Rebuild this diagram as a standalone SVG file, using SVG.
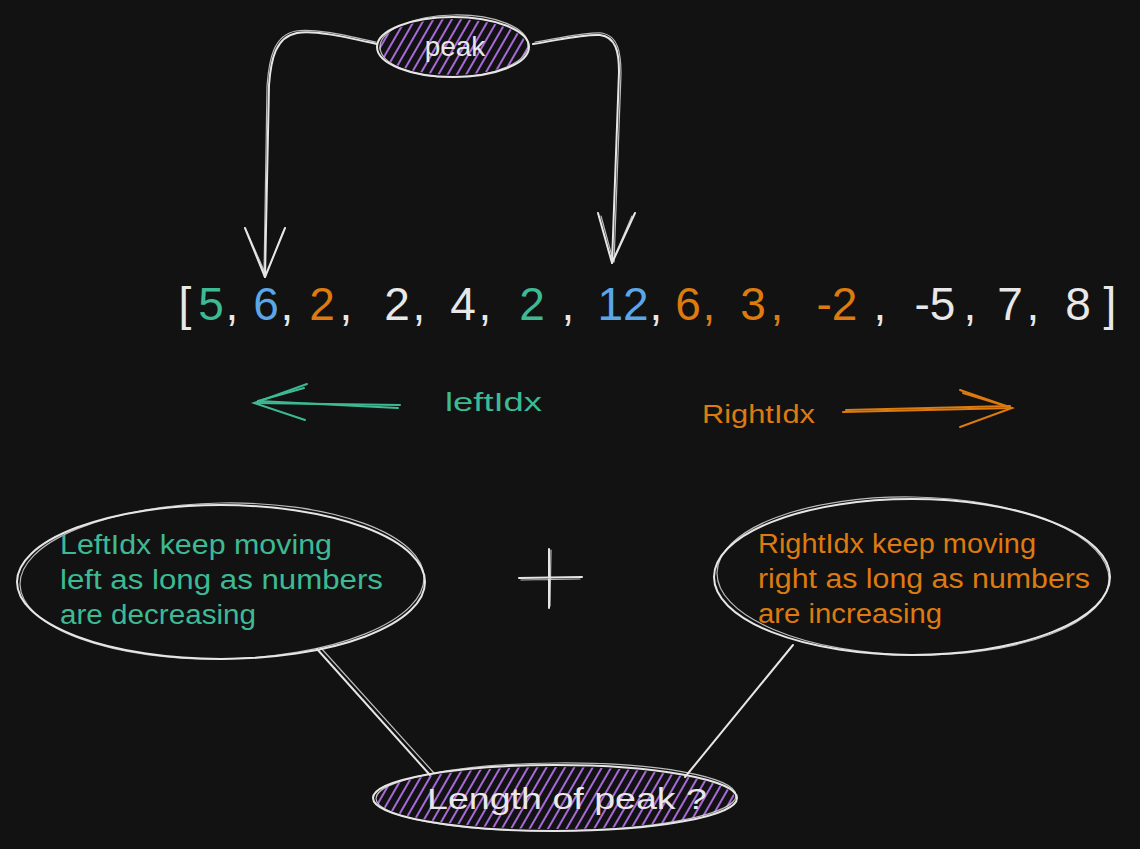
<svg xmlns="http://www.w3.org/2000/svg" width="1140" height="849" viewBox="0 0 1140 849">
<defs>
<pattern id="hatch" patternUnits="userSpaceOnUse" width="8" height="8" patternTransform="rotate(30)">
<line x1="1" y1="0" x2="1" y2="8" stroke="#b873f0" stroke-width="1.8"/>
</pattern>
<style>
.stk{fill:none;stroke:#e6e6e6;stroke-width:2;stroke-linecap:round;stroke-linejoin:round}
.stk2{fill:none;stroke:#e6e6e6;stroke-width:1.2;stroke-linecap:round;opacity:0.8}
.t{font-family:"Liberation Sans",Arial,sans-serif}
.num{font-family:"Liberation Sans",Arial,sans-serif;font-size:46px;text-anchor:middle}
.w{fill:#e8e8e8}.g{fill:#3dba94}.b{fill:#5ba7e6}.o{fill:#dd7a10}
.gs{fill:none;stroke:#3dba94;stroke-width:2;stroke-linecap:round}
.os{fill:none;stroke:#dd7a10;stroke-width:2;stroke-linecap:round}
</style>
</defs>
<rect width="1140" height="849" fill="#121212"/>

<g id="connectors">
<path class="stk" d="M377,44 C345,37 315,30 297,33 C276,37 271,58 269,85 L265,277"/>
<path class="stk2" d="M376,42 C344,35 314,28 296,31 C274,35 269,58 267,86 L264,276"/>
<path class="stk" d="M245,228 L265,277 L285,228"/>
<path class="stk2" d="M247,232 L266,275 L283,232"/>
<path class="stk" d="M533,44 C560,40 582,34 600,35 C616,37 619,52 619,72 L612,263"/>
<path class="stk2" d="M535,42 C562,38 584,32 602,33 C618,36 621,52 621,74 L614,262"/>
<path class="stk" d="M598,213 L612,263 L635,213"/>
<path class="stk2" d="M601,216 L613,260 L632,216"/>
<path class="stk" d="M317,649 L430,775"/>
<path class="stk2" d="M321,648 L434,773"/>
<path class="stk" d="M793,645 L685,777"/>
<path class="gs" d="M400,405 L255,403"/>
<path class="gs" d="M398,408 L258,401"/>
<path class="gs" d="M307,384 L254,403 L305,420"/>
<path class="gs" d="M304,388 L258,401"/>
<path class="os" d="M843,412 L1012,408"/>
<path class="os" d="M846,410 L1010,406"/>
<path class="os" d="M960,390 L1012,408 L960,427"/>
<path class="os" d="M963,393 L1009,407"/>
</g>

<g id="peak">
<ellipse cx="453" cy="47" rx="74" ry="28" fill="url(#hatch)"/>
<ellipse class="stk" cx="453" cy="47" rx="76" ry="30"/>
<ellipse class="stk2" cx="454" cy="46" rx="74" ry="31" transform="rotate(-1 454 46)"/>
<text class="t w" x="455" y="56" font-size="28" text-anchor="middle">peak</text>
</g>

<g id="array">
<text class="num w" x="185" y="320">[</text>
<text class="num g" x="211" y="320">5</text>
<text class="num w" x="232" y="320">,</text>
<text class="num b" x="266" y="320">6</text>
<text class="num w" x="287" y="320">,</text>
<text class="num o" x="322" y="320">2</text>
<text class="num w" x="346" y="320">,</text>
<text class="num w" x="397" y="320">2</text>
<text class="num w" x="419" y="320">,</text>
<text class="num w" x="463" y="320">4</text>
<text class="num w" x="485" y="320">,</text>
<text class="num g" x="532" y="320">2</text>
<text class="num w" x="568" y="320">,</text>
<text class="num b" x="623" y="320">12</text>
<text class="num w" x="656" y="320">,</text>
<text class="num o" x="688" y="320">6</text>
<text class="num o" x="709" y="320">,</text>
<text class="num o" x="753" y="320">3</text>
<text class="num o" x="777" y="320">,</text>
<text class="num o" x="837" y="320">-2</text>
<text class="num w" x="880" y="320">,</text>
<text class="num w" x="935" y="320">-5</text>
<text class="num w" x="970" y="320">,</text>
<text class="num w" x="1010" y="320">7</text>
<text class="num w" x="1033" y="320">,</text>
<text class="num w" x="1078" y="320">8</text>
<text class="num w" x="1110" y="320">]</text>
</g>

<g id="leftIdx-label">
<text class="t g" x="445" y="411" font-size="26" textLength="97" lengthAdjust="spacingAndGlyphs">leftIdx</text>
</g>
<g id="rightIdx-label">
<text class="t o" x="702" y="423" font-size="26" textLength="113" lengthAdjust="spacingAndGlyphs">RightIdx</text>
</g>

<g id="left-note">
<ellipse class="stk" cx="221" cy="582" rx="204" ry="77"/>
<ellipse class="stk2" cx="222" cy="581" rx="202" ry="78" transform="rotate(-1 222 581)"/>
<text class="t g" font-size="27">
<tspan x="60" y="554" textLength="272" lengthAdjust="spacingAndGlyphs">LeftIdx keep moving</tspan>
<tspan x="60" y="589" textLength="323" lengthAdjust="spacingAndGlyphs">left as long as numbers</tspan>
<tspan x="60" y="624" textLength="196" lengthAdjust="spacingAndGlyphs">are decreasing</tspan>
</text>
</g>

<g id="plus">
<path class="stk" d="M549,549 L549,608 M519,578 L582,577"/>
<path class="stk2" d="M551,550 L550,606 M521,580 L580,579"/>
</g>

<g id="right-note">
<ellipse class="stk" cx="912" cy="577" rx="198" ry="78"/>
<ellipse class="stk2" cx="913" cy="576" rx="196" ry="79" transform="rotate(1 913 576)"/>
<text class="t o" font-size="27">
<tspan x="758" y="553" textLength="278" lengthAdjust="spacingAndGlyphs">RightIdx keep moving</tspan>
<tspan x="758" y="588" textLength="332" lengthAdjust="spacingAndGlyphs">right as long as numbers</tspan>
<tspan x="758" y="623" textLength="184" lengthAdjust="spacingAndGlyphs">are increasing</tspan>
</text>
</g>

<g id="length-of-peak">
<ellipse cx="555" cy="798" rx="180" ry="31" fill="url(#hatch)"/>
<ellipse class="stk" cx="555" cy="798" rx="182" ry="33"/>
<ellipse class="stk2" cx="556" cy="797" rx="180" ry="34" transform="rotate(-0.5 556 797)"/>
<text class="t w" x="427" y="809" font-size="30" textLength="280" lengthAdjust="spacingAndGlyphs">Length of peak ?</text>
</g>
</svg>
